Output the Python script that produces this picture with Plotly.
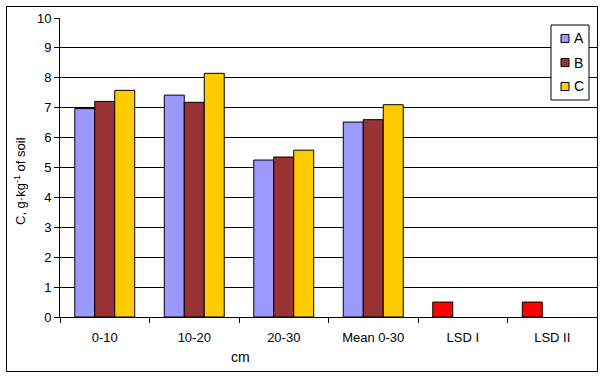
import plotly.graph_objects as go

categories = ["0-10", "10-20", "20-30", "Mean 0-30", "LSD I", "LSD II"]
series_a = [6.97, 7.42, 5.25, 6.52, 0.5, 0.5]
series_b = [7.21, 7.18, 5.35, 6.60, None, None]
series_c = [7.58, 8.15, 5.58, 7.10, None, None]
series_names = ["A", "B", "C"]
color_a = ["#9999FF"] * 4 + ["#FF0000", "#FF0000"]
color_b = "#993333"
color_c = "#FFCC00"
legend_colors = ["#9999FF", color_b, color_c]
y_ticks = list(range(0, 11))
x_title = "cm"
y_title = "C, g·kg<sup>-1</sup> of soil"

font = dict(family="Liberation Sans, Arial, sans-serif", size=13, color="black")

fig = go.Figure()
fig.add_trace(go.Bar(x=categories, y=series_a, name="A",
                     marker=dict(color=color_a, line=dict(color="black", width=1))))
fig.add_trace(go.Bar(x=categories, y=series_b, name="B",
                     marker=dict(color=color_b, line=dict(color="black", width=1))))
fig.add_trace(go.Bar(x=categories, y=series_c, name="C",
                     marker=dict(color=color_c, line=dict(color="black", width=1))))

L, R, T, B = 60, 6, 18, 61
W, H = 603, 378
pw, ph = W - L - R, H - T - B

def px(x):
    return (x - L) / pw

def py(y):
    return (H - B - y) / ph

shapes = [dict(type="rect", xref="paper", yref="paper",
               x0=px(6.5), x1=px(597.5), y0=py(371.5), y1=py(6.5),
               line=dict(color="black", width=1), layer="above"),
          dict(type="rect", xref="paper", yref="paper",
               x0=px(551), x1=px(589), y0=py(100), y1=py(25),
               line=dict(color="black", width=1), fillcolor="white", layer="above")]
annotations = []
for i, (nm, col) in enumerate(zip(series_names, legend_colors)):
    yc = 38.5 + i * 24
    shapes.append(dict(type="rect", xref="paper", yref="paper",
                       x0=px(561), x1=px(569), y0=py(yc + 4), y1=py(yc - 4),
                       line=dict(color="black", width=1), fillcolor=col, layer="above"))
    annotations.append(dict(text=nm, xref="paper", yref="paper", x=px(572), y=py(yc),
                            xanchor="left", yanchor="middle", showarrow=False,
                            font=dict(family=font["family"], size=14, color="black")))
annotations.append(dict(text=x_title, xref="paper", yref="paper", x=px(240), y=py(357),
                        xanchor="center", yanchor="middle", showarrow=False,
                        font=dict(family=font["family"], size=14, color="black")))
annotations.append(dict(text=y_title, xref="paper", yref="paper", x=px(20), y=py(181),
                        xanchor="center", yanchor="middle", showarrow=False,
                        textangle=-90, font=dict(family=font["family"], size=13, color="black")))

fig.update_layout(
    width=W, height=H,
    margin=dict(l=L, r=R, t=T, b=B, pad=0),
    paper_bgcolor="white", plot_bgcolor="white",
    font=font,
    barmode="group", bargap=0.33, bargroupgap=0,
    showlegend=False,
    xaxis=dict(showgrid=False, showline=True, linecolor="black", linewidth=1,
               ticks="outside", ticklen=5, tickcolor="black", tickson="boundaries",
               ticklabelstandoff=8, tickfont=font, automargin=False),
    yaxis=dict(range=[0, 10], tickvals=y_ticks, showgrid=True, gridcolor="black",
               gridwidth=1, showline=True, linecolor="black", linewidth=1,
               ticks="outside", ticklen=5, tickcolor="black", zeroline=False,
               tickfont=font, automargin=False),
    shapes=shapes,
    annotations=annotations,
)

fig.write_html("out.html", config={"displayModeBar": False},
               post_script="document.body.style.margin='0';")
